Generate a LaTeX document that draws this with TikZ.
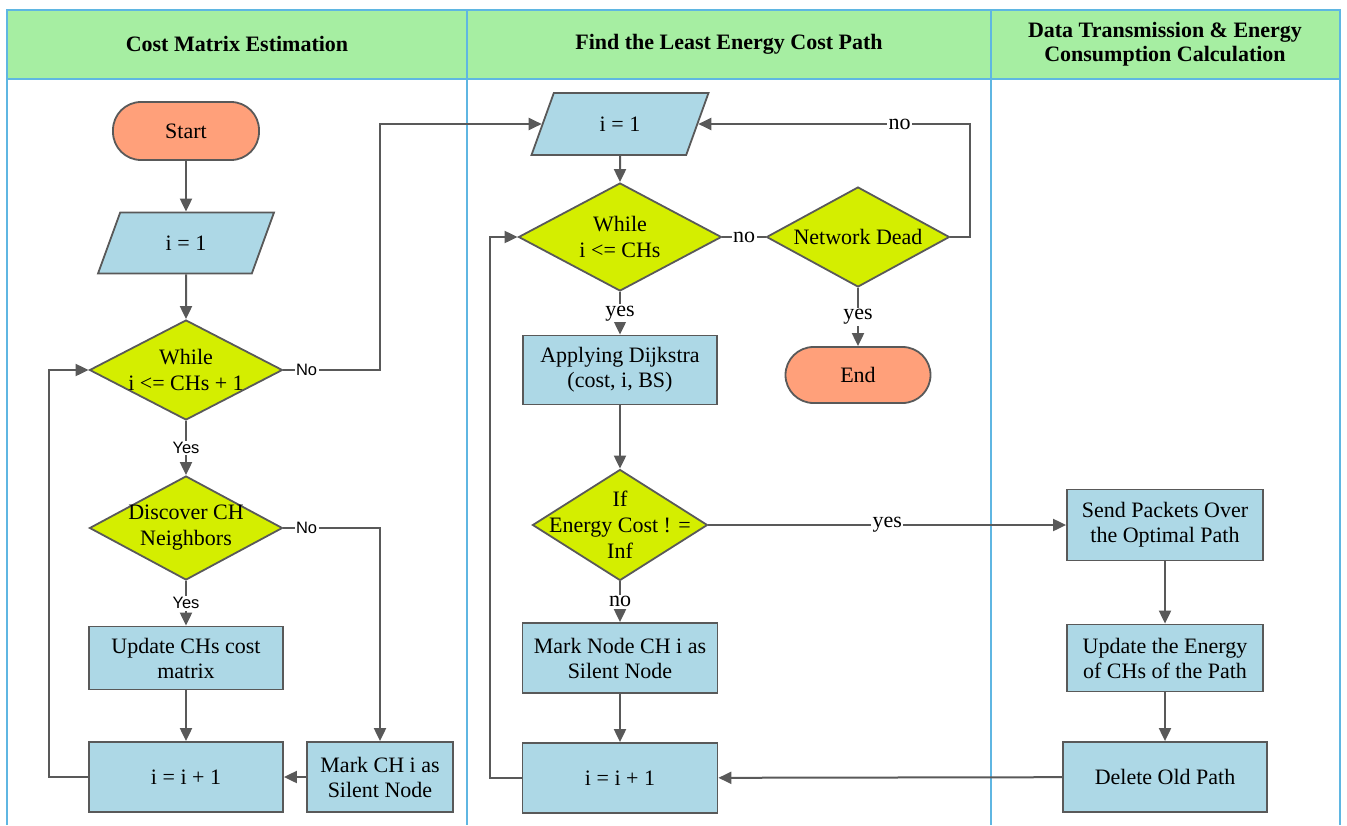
\documentclass[tikz,border=0pt]{standalone}
\usepackage{fontspec}
\setmainfont{Liberation Serif}
\setsansfont{Liberation Sans}
\usetikzlibrary{arrows.meta,shapes.geometric}
\definecolor{lanegreen}{HTML}{A6EEA2}
\definecolor{laneblue}{HTML}{5FB6E2}
\definecolor{boxblue}{HTML}{ADD8E6}
\definecolor{decgreen}{HTML}{D4EE00}
\definecolor{termred}{HTML}{FFA07A}
\definecolor{edgegray}{HTML}{595959}
\tikzset{
    flow base/.style={
        draw=edgegray,
        line width=1.8pt,
        align=center,
        inner sep=2pt,
        font=\fontsize{22}{25}\selectfont
    },
    flow process/.style={flow base, rectangle, fill=boxblue, minimum width=194pt, minimum height=69pt},
    flow term/.style={flow base, rectangle, rounded corners=28pt, fill=termred, minimum width=146pt, minimum height=58pt},
    flow io/.style={flow base, trapezium, trapezium left angle=68, trapezium right angle=112,
        trapezium stretches=true, fill=boxblue, minimum width=176pt, minimum height=61pt},
    flow decision/.style={flow base, diamond, fill=decgreen, inner sep=0pt,
        label={[align=center, font=\fontsize{22}{26}\selectfont]center:#1}},
    flow arrow/.style={draw=edgegray, line width=2pt, -{Triangle[length=13pt,width=12pt]}},
    flow line/.style={draw=edgegray, line width=2pt},
    flow word/.style={fill=white, inner sep=1.5pt, font=\fontsize{22}{24}\selectfont},
    flow sans/.style={fill=white, inner sep=1.5pt, font=\sffamily\fontsize{16.5}{19}\selectfont},
    lane head/.style={align=center, font=\bfseries\fontsize{22}{24}\selectfont}
}

\begin{document}
\begin{tikzpicture}[x=1pt,y=-1pt]
    \useasboundingbox (0,0) rectangle (1347,825);

    % lanes
    \fill[lanegreen] (7,10) rectangle (1340,79);
    \draw[laneblue, line width=2pt] (7,825) -- (7,10) -- (1340,10) -- (1340,825);
    \draw[laneblue, line width=2pt] (7,79) -- (1340,79);
    \foreach \x in {467,991} {
        \draw[laneblue, line width=2pt] (\x,10) -- (\x,825);
    }
    \node[lane head] (headA) at (237,44) {Cost Matrix Estimation};
    \node[lane head] (headB) at (729,44) {Find the Least Energy Cost Path};
    \node[lane head] (headC) at (1165,44) {Data Transmission \& Energy\\Consumption Calculation};

    % cost matrix estimation
    \node[flow term] (start) at (186,131) {Start};
    \node[flow io] (inA) at (186,243) {i = 1};
    \node[flow decision={While\\i <= CHs + 1}, minimum width=193pt, minimum height=100pt] (whileA) at (186,370) {};
    \node[flow decision={Discover CH\\Neighbors}, minimum width=193pt, minimum height=104pt] (discA) at (186,528) {};
    \node[flow process, minimum height=63pt] (updA) at (186,658) {Update CHs cost\\matrix};
    \node[flow process, minimum height=70pt] (incA) at (186,777) {i = i + 1};
    \node[flow process, minimum width=146pt, minimum height=70pt] (markA) at (380,777) {Mark CH i as\\Silent Node};

    % least energy cost path
    \node[flow io, minimum width=177pt, minimum height=62pt] (inB) at (620,124) {i = 1};
    \node[flow decision={While\\i <= CHs}, minimum width=203pt, minimum height=108pt] (whileB) at (620,237) {};
    \node[flow decision={Network Dead}, minimum width=183pt, minimum height=100pt] (deadB) at (858,237) {};
    \node[flow term, minimum width=145pt, minimum height=56pt] (endB) at (858,375) {End};
    \node[flow process] (dijkB) at (620,370) {Applying Dijkstra\\(cost, i, BS)};
    \node[flow decision={If\\Energy Cost ! =\\Inf}, minimum width=175pt, minimum height=111pt] (ifB) at (620,525) {};
    \node[flow process, minimum width=195pt, minimum height=70pt] (markB) at (620,658) {Mark Node CH i as\\Silent Node};
    \node[flow process, minimum width=195pt, minimum height=70pt] (incB) at (620,778) {i = i + 1};

    % data transmission
    \node[flow process, minimum width=196pt, minimum height=71pt] (sendC) at (1165,525) {Send Packets Over\\the Optimal Path};
    \node[flow process, minimum width=196pt, minimum height=67pt] (updC) at (1165,658) {Update the Energy\\of CHs of the Path};
    \node[flow process, minimum width=204pt, minimum height=70pt] (delC) at (1165,777) {Delete Old Path};

    % connectors, first lane
    \draw[flow arrow] (start) -- (inA);
    \draw[flow arrow] (inA) -- (whileA);
    \draw[flow arrow] (whileA) -- node[flow sans] {Yes} (discA);
    \draw[flow arrow] (discA) -- node[flow sans] {Yes} (updA);
    \draw[flow arrow] (updA) -- (incA);
    \draw[flow arrow] (markA) -- (incA);
    \draw[flow arrow] (incA.west) -- ++(-39,0) |- (whileA.west);
    \draw[flow arrow] (whileA.east) -- node[flow sans, pos=0.24] {No} (whileA.east -| markA) |- (inB.west);
    \draw[flow arrow] (discA.east) -- node[flow sans, pos=0.24] {No} (discA.east -| markA) -- (markA.north);

    % connectors, second lane
    \draw[flow arrow] (inB) -- (whileB);
    \draw[flow arrow] (whileB) -- node[flow word] {yes} (dijkB);
    \draw[flow line] (whileB.east) -- node[flow word] {no} (deadB.west);
    \draw[flow arrow] (deadB.east) -- ++(20,0) |- node[flow word, pos=0.63] {no} (inB.east);
    \draw[flow arrow] (deadB) -- node[flow word] {yes} (endB);
    \draw[flow arrow] (dijkB) -- (ifB);
    \draw[flow arrow] (ifB) -- node[flow word] {no} (markB);
    \draw[flow arrow] (markB) -- (incB);
    \draw[flow arrow] (incB.west) -- ++(-32,0) |- (whileB.west);
    \draw[flow arrow] (ifB.east) -- node[flow word] {yes} (sendC.west);

    % connectors, third lane
    \draw[flow arrow] (sendC) -- (updC);
    \draw[flow arrow] (updC) -- (delC);
    \draw[flow arrow] (delC) -- (incB);
\end{tikzpicture}
\end{document}
